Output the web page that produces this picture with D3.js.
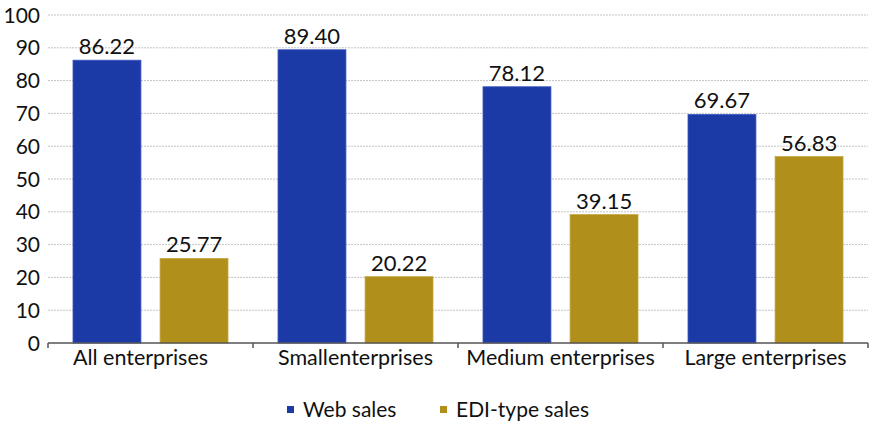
<!DOCTYPE html>
<html>
<head>
<meta charset="utf-8">
<script src="https://cdn.jsdelivr.net/npm/d3@7"></script>
<style>
body { margin: 0; background: #fff; }
text { font-family: Lato, "DejaVu Sans", sans-serif; fill: #111; }
.grid-line { stroke: #c4c4c4; stroke-dasharray: 2,1; stroke-width: 1; }
</style>
</head>
<body>
<div id="chart"></div>
<script>
var categories = ["All enterprises", "Smallenterprises", "Medium enterprises", "Large enterprises"];
var series = ["Web sales", "EDI-type sales"];
var webSales = [86.22, 89.40, 78.12, 69.67];
var ediSales = [25.77, 20.22, 39.15, 56.83];
var yTicks = [0, 10, 20, 30, 40, 50, 60, 70, 80, 90, 100];
var colours = ["#1c3aa5", "#b0901a"];

var margin = { top: 15, right: 2, bottom: 79, left: 48 };
var width = 870 - margin.left - margin.right,
    height = 422 - margin.top - margin.bottom;

var svg = d3.select("#chart").append("svg")
    .attr("width", 870)
    .attr("height", 422)
    .append("g")
    .attr("transform", "translate(" + margin.left + "," + margin.top + ")");

var x0 = d3.scaleBand().domain(categories).range([0, width]);
var x1 = d3.scaleBand().domain(series).range([0, 155]).paddingInner(0.22);
var y = d3.scaleLinear().domain([0, 100]).range([height, 0]);

// gridlines
svg.append("g").selectAll("line")
    .data(yTicks.filter(function(d) { return d > 0; }))
    .enter().append("line")
    .attr("class", "grid-line")
    .attr("x1", 0)
    .attr("x2", width)
    .attr("y1", function(d) { return y(d); })
    .attr("y2", function(d) { return y(d); });

// y axis labels
svg.append("g").selectAll("text")
    .data(yTicks)
    .enter().append("text")
    .attr("x", -8)
    .attr("y", function(d) { return y(d); })
    .attr("dy", "0.36em")
    .attr("text-anchor", "end")
    .style("font-size", "21px")
    .text(function(d) { return d; });

var data = categories.map(function(c, i) {
    return { cat: c, values: [webSales[i], ediSales[i]] };
});

var groups = svg.append("g").selectAll("g")
    .data(data)
    .enter().append("g")
    .attr("transform", function(d) {
        return "translate(" + (x0(d.cat) + (x0.bandwidth() - 155) / 2) + ",0)";
    });

groups.selectAll("rect")
    .data(function(d) { return d.values.map(function(v, j) { return { s: series[j], v: v, j: j }; }); })
    .enter().append("rect")
    .attr("x", function(d) { return x1(d.s); })
    .attr("width", x1.bandwidth())
    .attr("y", function(d) { return y(d.v); })
    .attr("height", function(d) { return height - y(d.v); })
    .style("fill", function(d) { return colours[d.j]; })
    .style("stroke", function(d) { return d.j == 0 ? "#3a55c0" : "#c4a640"; })
    .style("stroke-width", 0.8);

groups.selectAll("text")
    .data(function(d) { return d.values.map(function(v, j) { return { s: series[j], v: v, j: j }; }); })
    .enter().append("text")
    .attr("x", function(d) { return x1(d.s) + x1.bandwidth() / 2; })
    .attr("y", function(d) { return y(d.v) - 6; })
    .attr("text-anchor", "middle")
    .style("font-size", "22px")
    .text(function(d) { return d.v.toFixed(2); });

// x axis
var xAxis = svg.append("g").attr("transform", "translate(0," + height + ")");
xAxis.append("line")
    .attr("x1", 0).attr("x2", width)
    .attr("y1", 0).attr("y2", 0)
    .style("stroke", "#555").style("stroke-width", 1.5);
xAxis.selectAll("line.tick")
    .data(d3.range(categories.length + 1))
    .enter().append("line")
    .attr("class", "tick")
    .attr("x1", function(d) { return d * x0.step(); })
    .attr("x2", function(d) { return d * x0.step(); })
    .attr("y1", 0).attr("y2", 5)
    .style("stroke", "#555").style("stroke-width", 1.5);
xAxis.selectAll("text")
    .data(categories)
    .enter().append("text")
    .attr("x", function(d) { return x0(d) + x0.bandwidth() / 2; })
    .attr("dx", function(d, i) { return i == 0 ? -10 : 0; })
    .attr("y", 22)
    .attr("text-anchor", "middle")
    .style("font-size", "21.5px")
    .text(function(d) { return d; });

// legend
var legendX = [287, 440];
var legend = svg.append("g").attr("transform", "translate(" + (-margin.left) + "," + (-margin.top) + ")");
series.forEach(function(s, i) {
    legend.append("rect")
        .attr("x", legendX[i])
        .attr("y", 406)
        .attr("width", 7)
        .attr("height", 7)
        .style("fill", colours[i]);
    legend.append("text")
        .attr("x", legendX[i] + 16)
        .attr("y", 417)
        .style("font-size", "21px")
        .text(s);
});
</script>
</body>
</html>
